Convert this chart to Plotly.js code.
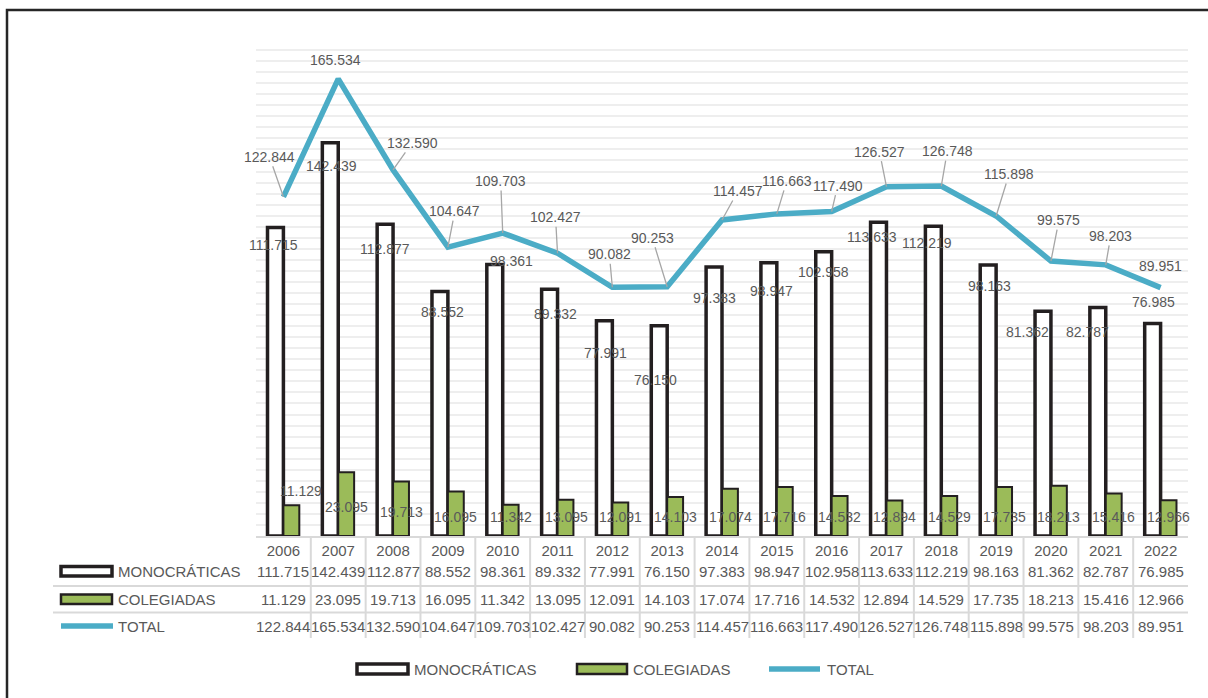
<!DOCTYPE html>
<html>
<head>
<meta charset="utf-8">
<script src="https://cdn.plot.ly/plotly-3.0.1.min.js"></script>
<style>html,body{margin:0;padding:0;background:#fff;}#chart{width:1208px;height:698px;}</style>
</head>
<body>
<div id="chart"></div>
<script>
// ---- data ----
const years = ["2006","2007","2008","2009","2010","2011","2012","2013","2014","2015","2016","2017","2018","2019","2020","2021","2022"];
const monocraticas = [111715,142439,112877,88552,98361,89332,77991,76150,97383,98947,102958,113633,112219,98163,81362,82787,76985];
const colegiadas = [11129,23095,19713,16095,11342,13095,12091,14103,17074,17716,14532,12894,14529,17735,18213,15416,12966];
const total = [122844,165534,132590,104647,109703,102427,90082,90253,114457,116663,117490,126527,126748,115898,99575,98203,89951];
const seriesNames = ["MONOCRÁTICAS","COLEGIADAS","TOTAL"];

// ---- label placement (pixel offsets, as placed in the original chart) ----
const totalLabelOffset = [[-14,-40],[-3,-19],[19,-27],[7,-36],[-2,-52],[-2,-36],[-3,-33],[-15,-49],[16,-29],[10,-33],[6,-26],[-7,-35],[6,-35],[13,-42],[8,-41],[5,-29],[0,-22]];
const monoLabelOffset = [[-2,17],[1,23],[0,25],[3,20],[17,-3],[6,25],[1,32],[-4,54],[0,31],[3,28],[0,20],[-6,15],[-6,17],[1,21],[-15,21],[-10,25],[1,-21]];
const coleLabelOffset = [[10,45],[0,29],[0,24],[0,19],[0,19],[1,19],[0,19],[0,19],[0,19],[0,19],[0,19],[0,19],[0,19],[0,19],[0,19],[0,19],[0,19]];

// ---- layout constants ----
const W = 1208, H = 698;
const M = {l:256, r:20, t:39, b:162};
const PW = W - M.l - M.r, PH = H - M.t - M.b;
const px = x => (x - M.l) / PW;
const py = y => (H - M.b - y) / PH;
const GRAY = '#595959', DARK = '#231f20', GREEN = '#9bbb59', BLUE = '#4bacc6', TBL = '#d9d9d9';
const fmt = n => String(n).replace(/\B(?=(\d{3})+(?!\d))/g, '.');
const FONT = {family:'"Liberation Sans", Arial, sans-serif', size:15, color:GRAY};
const LFONT = {family:'"Liberation Sans", Arial, sans-serif', size:14, color:GRAY};
const idx = years.map((_, i) => i);
const BAR_OFF = 8;

const traces = [
  {type:'bar', name:seriesNames[0], x:idx, y:monocraticas,
   marker:{color:'#ffffff', line:{color:DARK, width:3.5}}, hoverinfo:'skip'},
  {type:'bar', name:seriesNames[1], x:idx, y:colegiadas,
   marker:{color:GREEN, line:{color:DARK, width:2}}, hoverinfo:'skip'},
  {type:'scatter', mode:'lines', name:seriesNames[2], x:idx, y:total,
   line:{color:BLUE, width:5.5}, cliponaxis:false, hoverinfo:'skip'}
];

const annotations = [];
const shapes = [];

// data labels
idx.forEach(i => {
  annotations.push({x:i, y:monocraticas[i], xref:'x', yref:'y', text:fmt(monocraticas[i]),
    showarrow:false, xshift:-BAR_OFF + monoLabelOffset[i][0], yshift:-monoLabelOffset[i][1], font:LFONT});
  annotations.push({x:i, y:0, xref:'x', yref:'y', text:fmt(colegiadas[i]),
    showarrow:false, xshift:BAR_OFF + coleLabelOffset[i][0], yshift:coleLabelOffset[i][1], font:LFONT});
  const [ax, ay] = totalLabelOffset[i];
  const lead = ay < -24;
  annotations.push({x:i, y:total[i], xref:'x', yref:'y', text:fmt(total[i]),
    showarrow:lead, arrowhead:0, arrowwidth:1.3, arrowcolor:'#a6a6a6', standoff:0,
    ax:ax, ay:ay, xshift: lead ? 0 : ax, yshift: lead ? 0 : -ay, font:LFONT});
});

// data table rows
const rows = [monocraticas, colegiadas, total];
const rowY = [571, 599, 626];
rows.forEach((arr, r) => {
  idx.forEach(i => {
    annotations.push({x:i, xref:'x', y:py(rowY[r]), yref:'paper', text:fmt(arr[i]),
      showarrow:false, xanchor:'center', yanchor:'middle', font:FONT});
  });
  annotations.push({x:px(116), xref:'paper', y:py(rowY[r]), yref:'paper', text:seriesNames[r],
    showarrow:false, xanchor:'left', yanchor:'middle', font:FONT});
});
// table grid lines
for (let i = 0; i < years.length - 1; i++) {
  shapes.push({type:'line', xref:'x', yref:'paper', x0:i+0.5, x1:i+0.5, y0:py(537), y1:py(638),
    line:{color:TBL, width:2}, layer:'above'});
}
[586, 612.5].forEach(y => shapes.push({type:'line', xref:'paper', yref:'paper',
  x0:px(53), x1:px(1188), y0:py(y), y1:py(y), line:{color:TBL, width:2}}));

// table legend keys
shapes.push({type:'rect', xref:'paper', yref:'paper', x0:px(61), x1:px(112), y0:py(566.5), y1:py(576),
  fillcolor:'#ffffff', line:{color:DARK, width:3.5}});
shapes.push({type:'rect', xref:'paper', yref:'paper', x0:px(61), x1:px(112), y0:py(594.5), y1:py(604),
  fillcolor:GREEN, line:{color:DARK, width:2.5}});
shapes.push({type:'line', xref:'paper', yref:'paper', x0:px(61), x1:px(113), y0:py(626), y1:py(626),
  line:{color:BLUE, width:5.5}});

// bottom legend
const LY = 669;
shapes.push({type:'rect', xref:'paper', yref:'paper', x0:px(357), x1:px(408), y0:py(LY-5), y1:py(LY+5),
  fillcolor:'#ffffff', line:{color:DARK, width:3.5}});
shapes.push({type:'rect', xref:'paper', yref:'paper', x0:px(577), x1:px(627), y0:py(LY-5), y1:py(LY+5),
  fillcolor:GREEN, line:{color:DARK, width:2.5}});
shapes.push({type:'line', xref:'paper', yref:'paper', x0:px(769), x1:px(820), y0:py(LY), y1:py(LY),
  line:{color:BLUE, width:5.5}});
[[412, seriesNames[0]], [631, seriesNames[1]], [825, seriesNames[2]]].forEach(([x, t]) =>
  annotations.push({x:px(x), xref:'paper', y:py(LY), yref:'paper', text:t, showarrow:false,
    xanchor:'left', yanchor:'middle', font:FONT}));

// outer chart border
shapes.push({type:'rect', xref:'paper', yref:'paper', x0:px(7), x1:px(1230), y0:py(10), y1:py(720),
  line:{color:'#262626', width:2.5}, fillcolor:'rgba(0,0,0,0)'});

const layout = {
  width:W, height:H, margin:{l:M.l, r:M.r, t:M.t, b:M.b, pad:0},
  paper_bgcolor:'#ffffff', plot_bgcolor:'#ffffff',
  barmode:'group', bargap:0.42, bargroupgap:0, showlegend:false,
  font:FONT,
  xaxis:{type:'linear', range:[-0.5, years.length - 0.5], tickmode:'array', tickvals:idx, ticktext:years,
    showline:true, linecolor:TBL, linewidth:2, ticks:'', showgrid:false, zeroline:false,
    tickfont:FONT, fixedrange:true},
  yaxis:{range:[0,180000], dtick:4000, showgrid:true, gridcolor:'#eeeeee', gridwidth:2,
    showticklabels:false, zeroline:false, ticks:'', showline:false, fixedrange:true},
  annotations:annotations, shapes:shapes
};

Plotly.newPlot('chart', traces, layout, {displayModeBar:false, staticPlot:true});
</script>
</body>
</html>
